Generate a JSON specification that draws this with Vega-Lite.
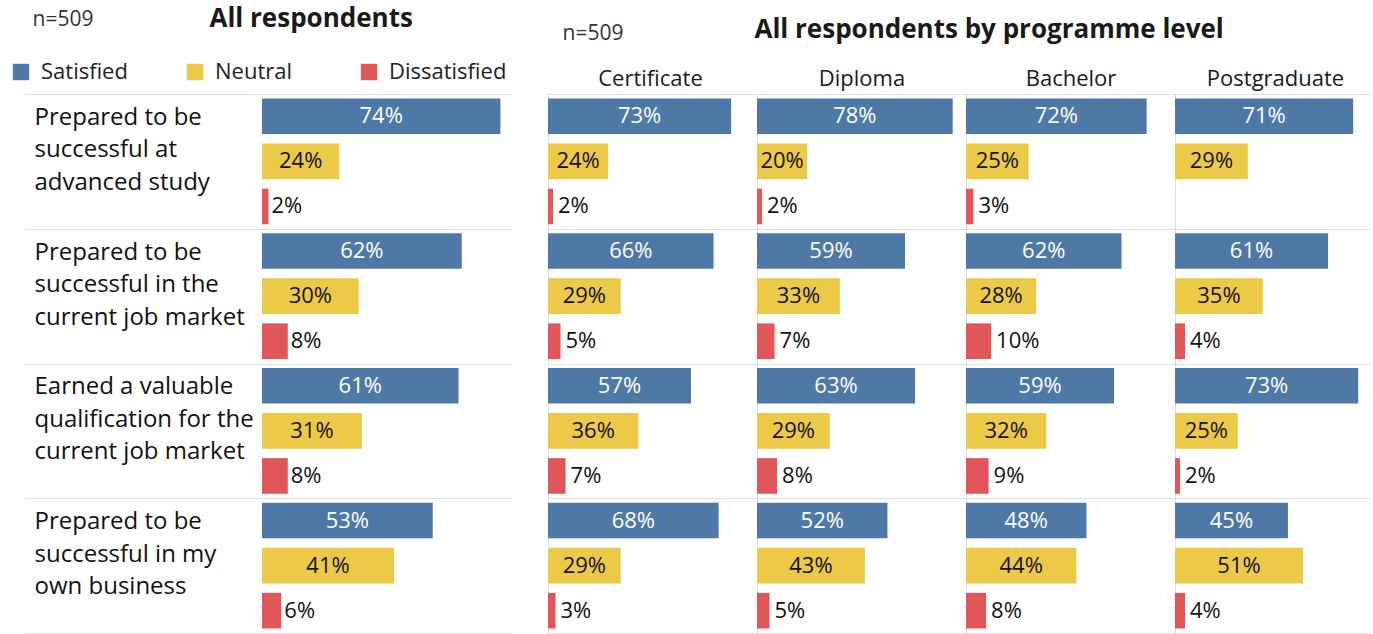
{
  "$schema": "https://vega.github.io/schema/vega-lite/v6.json",
  "padding": {"left": 10, "top": 5, "right": 0, "bottom": 0},
  "config": {
    "font": "Open Sans",
    "view": {"stroke": null},
    "axis": {"gridColor": "#c4c4c4", "gridDash": [1, 1], "domainColor": "#c4c4c4", "domainDash": [1, 1], "tickColor": "#c4c4c4", "tickDash": [1, 1]}
  },
  "datasets": {
    "all": [
      {"question": "Prepared to be\nsuccessful at\nadvanced study", "qorder": 1, "status": "Satisfied", "value": 0.74},
      {"question": "Prepared to be\nsuccessful at\nadvanced study", "qorder": 1, "status": "Neutral", "value": 0.24},
      {"question": "Prepared to be\nsuccessful at\nadvanced study", "qorder": 1, "status": "Dissatisfied", "value": 0.02},
      {"question": "Prepared to be\nsuccessful in the\ncurrent job market", "qorder": 2, "status": "Satisfied", "value": 0.62},
      {"question": "Prepared to be\nsuccessful in the\ncurrent job market", "qorder": 2, "status": "Neutral", "value": 0.30},
      {"question": "Prepared to be\nsuccessful in the\ncurrent job market", "qorder": 2, "status": "Dissatisfied", "value": 0.08},
      {"question": "Earned a valuable\nqualification for the\ncurrent job market", "qorder": 3, "status": "Satisfied", "value": 0.61},
      {"question": "Earned a valuable\nqualification for the\ncurrent job market", "qorder": 3, "status": "Neutral", "value": 0.31},
      {"question": "Earned a valuable\nqualification for the\ncurrent job market", "qorder": 3, "status": "Dissatisfied", "value": 0.08},
      {"question": "Prepared to be\nsuccessful in my\nown business", "qorder": 4, "status": "Satisfied", "value": 0.53},
      {"question": "Prepared to be\nsuccessful in my\nown business", "qorder": 4, "status": "Neutral", "value": 0.41},
      {"question": "Prepared to be\nsuccessful in my\nown business", "qorder": 4, "status": "Dissatisfied", "value": 0.06}
    ],
    "level": [
      {"level": "Certificate", "qorder": 1, "status": "Satisfied", "value": 0.73},
      {"level": "Certificate", "qorder": 1, "status": "Neutral", "value": 0.24},
      {"level": "Certificate", "qorder": 1, "status": "Dissatisfied", "value": 0.02},
      {"level": "Certificate", "qorder": 2, "status": "Satisfied", "value": 0.66},
      {"level": "Certificate", "qorder": 2, "status": "Neutral", "value": 0.29},
      {"level": "Certificate", "qorder": 2, "status": "Dissatisfied", "value": 0.05},
      {"level": "Certificate", "qorder": 3, "status": "Satisfied", "value": 0.57},
      {"level": "Certificate", "qorder": 3, "status": "Neutral", "value": 0.36},
      {"level": "Certificate", "qorder": 3, "status": "Dissatisfied", "value": 0.07},
      {"level": "Certificate", "qorder": 4, "status": "Satisfied", "value": 0.68},
      {"level": "Certificate", "qorder": 4, "status": "Neutral", "value": 0.29},
      {"level": "Certificate", "qorder": 4, "status": "Dissatisfied", "value": 0.03},
      {"level": "Diploma", "qorder": 1, "status": "Satisfied", "value": 0.78},
      {"level": "Diploma", "qorder": 1, "status": "Neutral", "value": 0.20},
      {"level": "Diploma", "qorder": 1, "status": "Dissatisfied", "value": 0.02},
      {"level": "Diploma", "qorder": 2, "status": "Satisfied", "value": 0.59},
      {"level": "Diploma", "qorder": 2, "status": "Neutral", "value": 0.33},
      {"level": "Diploma", "qorder": 2, "status": "Dissatisfied", "value": 0.07},
      {"level": "Diploma", "qorder": 3, "status": "Satisfied", "value": 0.63},
      {"level": "Diploma", "qorder": 3, "status": "Neutral", "value": 0.29},
      {"level": "Diploma", "qorder": 3, "status": "Dissatisfied", "value": 0.08},
      {"level": "Diploma", "qorder": 4, "status": "Satisfied", "value": 0.52},
      {"level": "Diploma", "qorder": 4, "status": "Neutral", "value": 0.43},
      {"level": "Diploma", "qorder": 4, "status": "Dissatisfied", "value": 0.05},
      {"level": "Bachelor", "qorder": 1, "status": "Satisfied", "value": 0.72},
      {"level": "Bachelor", "qorder": 1, "status": "Neutral", "value": 0.25},
      {"level": "Bachelor", "qorder": 1, "status": "Dissatisfied", "value": 0.03},
      {"level": "Bachelor", "qorder": 2, "status": "Satisfied", "value": 0.62},
      {"level": "Bachelor", "qorder": 2, "status": "Neutral", "value": 0.28},
      {"level": "Bachelor", "qorder": 2, "status": "Dissatisfied", "value": 0.10},
      {"level": "Bachelor", "qorder": 3, "status": "Satisfied", "value": 0.59},
      {"level": "Bachelor", "qorder": 3, "status": "Neutral", "value": 0.32},
      {"level": "Bachelor", "qorder": 3, "status": "Dissatisfied", "value": 0.09},
      {"level": "Bachelor", "qorder": 4, "status": "Satisfied", "value": 0.48},
      {"level": "Bachelor", "qorder": 4, "status": "Neutral", "value": 0.44},
      {"level": "Bachelor", "qorder": 4, "status": "Dissatisfied", "value": 0.08},
      {"level": "Postgraduate", "qorder": 1, "status": "Satisfied", "value": 0.71},
      {"level": "Postgraduate", "qorder": 1, "status": "Neutral", "value": 0.29},
      {"level": "Postgraduate", "qorder": 2, "status": "Satisfied", "value": 0.61},
      {"level": "Postgraduate", "qorder": 2, "status": "Neutral", "value": 0.35},
      {"level": "Postgraduate", "qorder": 2, "status": "Dissatisfied", "value": 0.04},
      {"level": "Postgraduate", "qorder": 3, "status": "Satisfied", "value": 0.73},
      {"level": "Postgraduate", "qorder": 3, "status": "Neutral", "value": 0.25},
      {"level": "Postgraduate", "qorder": 3, "status": "Dissatisfied", "value": 0.02},
      {"level": "Postgraduate", "qorder": 4, "status": "Satisfied", "value": 0.45},
      {"level": "Postgraduate", "qorder": 4, "status": "Neutral", "value": 0.51},
      {"level": "Postgraduate", "qorder": 4, "status": "Dissatisfied", "value": 0.04}
    ]
  },
  "spacing": 36,
  "bounds": "flush",
  "resolve": {"legend": {"color": "independent"}},
  "hconcat": [
    {
      "width": 250,
      "height": 539,
      "data": {"name": "all"},
      "encoding": {
        "y": {
          "field": "question", "type": "nominal", "sort": {"field": "qorder", "op": "min"},
          "scale": {"paddingInner": 0, "paddingOuter": 0},
          "axis": {
            "title": "n=509", "titleX": -230, "titleY": -75, "titleAngle": 0, "titleAlign": "left", "titleBaseline": "middle",
            "titleFontSize": 21, "titleFontWeight": "normal", "titleColor": "#333333",
            "labelExpr": "split(datum.label, '\\n')", "labelAlign": "left", "labelBaseline": "middle",
            "labelPadding": -9, "labelOffset": -44, "labelFontSize": 24, "labelLineHeight": 32.5, "labelLimit": 400,
            "labelOverlap": false, "labelColor": "#111111",
            "tickBand": "extent", "ticks": true, "tickSize": 237, "domain": false, "grid": true
          }
        },
        "yOffset": {"field": "status", "type": "nominal", "sort": ["Satisfied", "Neutral", "Dissatisfied"], "scale": {"paddingInner": 0.21, "paddingOuter": 0.1}},
        "x": {
          "field": "value", "type": "quantitative", "scale": {"domain": [0, 0.776]},
          "axis": {"orient": "top", "labels": false, "ticks": false, "domain": false, "grid": false,
            "title": "All respondents", "titleX": -53, "titleY": -76, "titleAlign": "left", "titleBaseline": "middle",
            "titleFontSize": 26, "titleFontWeight": "bold", "titleColor": "#1a1a1a", "titleLimit": 800}
        }
      },
      "layer": [
        {
          "mark": {"type": "bar"},
          "encoding": {
            "color": {
              "field": "status", "type": "nominal",
              "scale": {"domain": ["Satisfied", "Neutral", "Dissatisfied"], "range": ["#4e79a7", "#edc948", "#e15759"]},
              "legend": {"orient": "none", "legendX": -252, "legendY": -33, "direction": "horizontal", "columns": 3, "gridAlign": "all",
                "columnPadding": 25, "symbolType": "square", "symbolSize": 270, "symbolStrokeWidth": 0, "labelFontSize": 22,
                "labelOffset": 9, "labelColor": "#222222", "title": null}
            }
          }
        },
        {
          "transform": [{"filter": "datum.status !== 'Dissatisfied'"}],
          "mark": {"type": "text", "fontSize": 22},
          "encoding": {
            "x": {"field": "value", "type": "quantitative", "stack": "zero", "bandPosition": 0.5, "scale": {"domain": [0, 0.776]},
              "axis": {"orient": "top", "labels": false, "ticks": false, "domain": false, "grid": false,
                "title": "All respondents", "titleX": -53, "titleY": -76, "titleAlign": "left", "titleBaseline": "middle",
                "titleFontSize": 26, "titleFontWeight": "bold", "titleColor": "#1a1a1a", "titleLimit": 800}},
            "text": {"field": "value", "type": "quantitative", "format": ".0%"},
            "color": {"condition": {"test": "datum.status === 'Satisfied'", "value": "#ffffff"}, "value": "#111111"}
          }
        },
        {
          "transform": [{"filter": "datum.status === 'Dissatisfied'"}],
          "mark": {"type": "text", "fontSize": 22, "align": "left", "dx": 3, "color": "#111111"},
          "encoding": {
            "text": {"field": "value", "type": "quantitative", "format": ".0%"}
          }
        }
      ]
    },
    {
      "spacing": 0,
      "bounds": "flush",
      "resolve": {"legend": {"color": "independent"}},
      "hconcat": [
        {
          "width": 209, "height": 539,
          "data": {"name": "level"},
          "transform": [{"filter": "datum.level === 'Certificate'"}],
          "encoding": {
            "y": {"field": "qorder", "type": "nominal", "scale": {"paddingInner": 0, "paddingOuter": 0},
              "axis": {"labels": false, "ticks": false, "domain": true, "grid": true, "tickBand": "extent",
                "title": "n=509", "titleX": 14, "titleY": -61, "titleAngle": 0, "titleAlign": "left", "titleBaseline": "middle",
                "titleFontSize": 21, "titleFontWeight": "normal", "titleColor": "#333333"}},
            "yOffset": {"field": "status", "type": "nominal", "sort": ["Satisfied", "Neutral", "Dissatisfied"], "scale": {"paddingInner": 0.077, "paddingOuter": 0.02}},
            "x": {"field": "value", "type": "quantitative", "scale": {"domain": [0, 0.833]},
              "axis": {"orient": "top", "labels": false, "ticks": false, "domain": false, "grid": false,
                "title": "Certificate", "titleY": -16, "titleX": 102, "titleBaseline": "middle", "titleFontSize": 22, "titleFontWeight": "normal", "titleColor": "#1a1a1a"}}
          },
          "layer": [
            {"mark": {"type": "bar"},
             "encoding": {"color": {"field": "status", "type": "nominal", "scale": {"domain": ["Satisfied", "Neutral", "Dissatisfied"], "range": ["#4e79a7", "#edc948", "#e15759"]}, "legend": null}}},
            {"transform": [{"filter": "datum.status !== 'Dissatisfied'"}],
             "mark": {"type": "text", "fontSize": 22},
             "encoding": {"x": {"field": "value", "type": "quantitative", "stack": "zero", "bandPosition": 0.5, "scale": {"domain": [0, 0.833]},
                 "axis": {"orient": "top", "labels": false, "ticks": false, "domain": false, "grid": false,
                   "title": "Certificate", "titleY": -16, "titleX": 102, "titleBaseline": "middle", "titleFontSize": 22, "titleFontWeight": "normal", "titleColor": "#1a1a1a"}},
               "text": {"field": "value", "type": "quantitative", "format": ".0%"},
               "color": {"condition": {"test": "datum.status === 'Satisfied'", "value": "#ffffff"}, "value": "#111111"}}},
            {"transform": [{"filter": "datum.status === 'Dissatisfied'"}],
             "mark": {"type": "text", "fontSize": 22, "align": "left", "dx": 5, "color": "#111111"},
             "encoding": {"text": {"field": "value", "type": "quantitative", "format": ".0%"}}}
          ]
        },
        {
          "width": 209, "height": 539,
          "data": {"name": "level"},
          "transform": [{"filter": "datum.level === 'Diploma'"}],
          "encoding": {
            "y": {"field": "qorder", "type": "nominal", "scale": {"paddingInner": 0, "paddingOuter": 0},
              "axis": {"labels": false, "ticks": false, "domain": true, "grid": true, "tickBand": "extent",
                "title": "All respondents by programme level", "titleX": -3, "titleY": -65, "titleAngle": 0, "titleAlign": "left", "titleBaseline": "middle",
                "titleFontSize": 26, "titleFontWeight": "bold", "titleColor": "#1a1a1a", "titleLimit": 800}},
            "yOffset": {"field": "status", "type": "nominal", "sort": ["Satisfied", "Neutral", "Dissatisfied"], "scale": {"paddingInner": 0.077, "paddingOuter": 0.02}},
            "x": {"field": "value", "type": "quantitative", "scale": {"domain": [0, 0.833]},
              "axis": {"orient": "top", "labels": false, "ticks": false, "domain": false, "grid": false,
                "title": "Diploma", "titleY": -16, "titleBaseline": "middle", "titleFontSize": 22, "titleFontWeight": "normal", "titleColor": "#1a1a1a"}}
          },
          "layer": [
            {"mark": {"type": "bar"},
             "encoding": {"color": {"field": "status", "type": "nominal", "scale": {"domain": ["Satisfied", "Neutral", "Dissatisfied"], "range": ["#4e79a7", "#edc948", "#e15759"]}, "legend": null}}},
            {"transform": [{"filter": "datum.status !== 'Dissatisfied'"}],
             "mark": {"type": "text", "fontSize": 22},
             "encoding": {"x": {"field": "value", "type": "quantitative", "stack": "zero", "bandPosition": 0.5, "scale": {"domain": [0, 0.833]},
                 "axis": {"orient": "top", "labels": false, "ticks": false, "domain": false, "grid": false,
                   "title": "Diploma", "titleY": -16, "titleBaseline": "middle", "titleFontSize": 22, "titleFontWeight": "normal", "titleColor": "#1a1a1a"}},
               "text": {"field": "value", "type": "quantitative", "format": ".0%"},
               "color": {"condition": {"test": "datum.status === 'Satisfied'", "value": "#ffffff"}, "value": "#111111"}}},
            {"transform": [{"filter": "datum.status === 'Dissatisfied'"}],
             "mark": {"type": "text", "fontSize": 22, "align": "left", "dx": 5, "color": "#111111"},
             "encoding": {"text": {"field": "value", "type": "quantitative", "format": ".0%"}}}
          ]
        },
        {
          "width": 209, "height": 539,
          "data": {"name": "level"},
          "transform": [{"filter": "datum.level === 'Bachelor'"}],
          "encoding": {
            "y": {"field": "qorder", "type": "nominal", "scale": {"paddingInner": 0, "paddingOuter": 0},
              "axis": {"labels": false, "ticks": false, "domain": true, "grid": true, "tickBand": "extent", "title": null}},
            "yOffset": {"field": "status", "type": "nominal", "sort": ["Satisfied", "Neutral", "Dissatisfied"], "scale": {"paddingInner": 0.077, "paddingOuter": 0.02}},
            "x": {"field": "value", "type": "quantitative", "scale": {"domain": [0, 0.833]},
              "axis": {"orient": "top", "labels": false, "ticks": false, "domain": false, "grid": false,
                "title": "Bachelor", "titleY": -16, "titleBaseline": "middle", "titleFontSize": 22, "titleFontWeight": "normal", "titleColor": "#1a1a1a"}}
          },
          "layer": [
            {"mark": {"type": "bar"},
             "encoding": {"color": {"field": "status", "type": "nominal", "scale": {"domain": ["Satisfied", "Neutral", "Dissatisfied"], "range": ["#4e79a7", "#edc948", "#e15759"]}, "legend": null}}},
            {"transform": [{"filter": "datum.status !== 'Dissatisfied'"}],
             "mark": {"type": "text", "fontSize": 22},
             "encoding": {"x": {"field": "value", "type": "quantitative", "stack": "zero", "bandPosition": 0.5, "scale": {"domain": [0, 0.833]},
                 "axis": {"orient": "top", "labels": false, "ticks": false, "domain": false, "grid": false,
                   "title": "Bachelor", "titleY": -16, "titleBaseline": "middle", "titleFontSize": 22, "titleFontWeight": "normal", "titleColor": "#1a1a1a"}},
               "text": {"field": "value", "type": "quantitative", "format": ".0%"},
               "color": {"condition": {"test": "datum.status === 'Satisfied'", "value": "#ffffff"}, "value": "#111111"}}},
            {"transform": [{"filter": "datum.status === 'Dissatisfied'"}],
             "mark": {"type": "text", "fontSize": 22, "align": "left", "dx": 5, "color": "#111111"},
             "encoding": {"text": {"field": "value", "type": "quantitative", "format": ".0%"}}}
          ]
        },
        {
          "width": 196, "height": 539,
          "data": {"name": "level"},
          "transform": [{"filter": "datum.level === 'Postgraduate'"}],
          "encoding": {
            "y": {"field": "qorder", "type": "nominal", "scale": {"paddingInner": 0, "paddingOuter": 0},
              "axis": {"labels": false, "ticks": false, "domain": true, "grid": true, "tickBand": "extent", "title": null}},
            "yOffset": {"field": "status", "type": "nominal", "sort": ["Satisfied", "Neutral", "Dissatisfied"], "scale": {"paddingInner": 0.077, "paddingOuter": 0.02}},
            "x": {"field": "value", "type": "quantitative", "scale": {"domain": [0, 0.781]},
              "axis": {"orient": "top", "labels": false, "ticks": false, "domain": false, "grid": false,
                "title": "Postgraduate", "titleY": -16, "titleX": 100, "titleBaseline": "middle", "titleFontSize": 22, "titleFontWeight": "normal", "titleColor": "#1a1a1a"}}
          },
          "layer": [
            {"mark": {"type": "bar"},
             "encoding": {"color": {"field": "status", "type": "nominal", "scale": {"domain": ["Satisfied", "Neutral", "Dissatisfied"], "range": ["#4e79a7", "#edc948", "#e15759"]}, "legend": null}}},
            {"transform": [{"filter": "datum.status !== 'Dissatisfied'"}],
             "mark": {"type": "text", "fontSize": 22},
             "encoding": {"x": {"field": "value", "type": "quantitative", "stack": "zero", "bandPosition": 0.5, "scale": {"domain": [0, 0.781]},
                 "axis": {"orient": "top", "labels": false, "ticks": false, "domain": false, "grid": false,
                   "title": "Postgraduate", "titleY": -16, "titleX": 100, "titleBaseline": "middle", "titleFontSize": 22, "titleFontWeight": "normal", "titleColor": "#1a1a1a"}},
               "text": {"field": "value", "type": "quantitative", "format": ".0%"},
               "color": {"condition": {"test": "datum.status === 'Satisfied'", "value": "#ffffff"}, "value": "#111111"}}},
            {"transform": [{"filter": "datum.status === 'Dissatisfied'"}],
             "mark": {"type": "text", "fontSize": 22, "align": "left", "dx": 5, "color": "#111111"},
             "encoding": {"text": {"field": "value", "type": "quantitative", "format": ".0%"}}}
          ]
        }
      ]
    }
  ]
}
